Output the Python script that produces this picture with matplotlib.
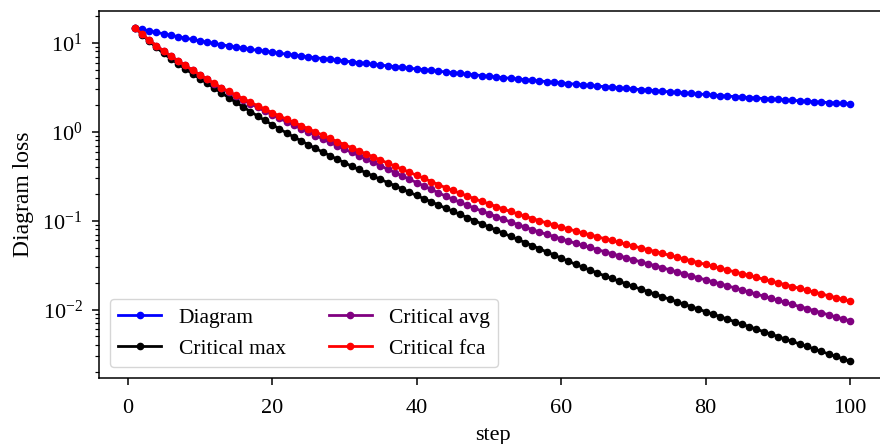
import numpy as np
import matplotlib
matplotlib.use("Agg")
import matplotlib.pyplot as plt

# loss per step, stored as log10(loss)
steps = list(range(1, 101))

diagram_log10 = [
    1.170, 1.152, 1.135, 1.118, 1.101, 1.085, 1.069, 1.053, 1.038, 1.022,
    1.007, 0.993, 0.979, 0.965, 0.952, 0.940, 0.927, 0.916, 0.905, 0.894,
    0.883, 0.873, 0.862, 0.852, 0.842, 0.832, 0.823, 0.813, 0.804, 0.795,
    0.786, 0.777, 0.768, 0.759, 0.750, 0.741, 0.732, 0.724, 0.715, 0.706,
    0.698, 0.689, 0.681, 0.673, 0.665, 0.656, 0.648, 0.640, 0.632, 0.624,
    0.616, 0.608, 0.601, 0.593, 0.586, 0.578, 0.571, 0.564, 0.556, 0.549,
    0.542, 0.535, 0.528, 0.521, 0.514, 0.507, 0.501, 0.494, 0.487, 0.481,
    0.474, 0.468, 0.461, 0.455, 0.449, 0.443, 0.437, 0.431, 0.425, 0.419,
    0.413, 0.407, 0.401, 0.396, 0.390, 0.385, 0.379, 0.374, 0.368, 0.363,
    0.358, 0.353, 0.348, 0.343, 0.338, 0.333, 0.328, 0.323, 0.318, 0.313,
]

crit_max_log10 = [
    1.170, 1.092, 1.018, 0.948, 0.880, 0.820, 0.762, 0.706, 0.651, 0.597,
    0.545, 0.491, 0.437, 0.384, 0.331, 0.279, 0.227, 0.177, 0.128, 0.080,
    0.033, -0.013, -0.058, -0.102, -0.145, -0.187, -0.228, -0.268, -0.308, -0.347,
    -0.386, -0.424, -0.461, -0.498, -0.535, -0.571, -0.607, -0.643, -0.680, -0.716,
    -0.752, -0.787, -0.823, -0.858, -0.893, -0.929, -0.964, -0.999, -1.034, -1.069,
    -1.105, -1.140, -1.175, -1.210, -1.245, -1.280, -1.315, -1.350, -1.385, -1.420,
    -1.455, -1.490, -1.523, -1.555, -1.587, -1.618, -1.649, -1.679, -1.709, -1.739,
    -1.768, -1.797, -1.825, -1.854, -1.882, -1.910, -1.938, -1.966, -1.994, -2.022,
    -2.050, -2.078, -2.106, -2.134, -2.162, -2.190, -2.218, -2.246, -2.274, -2.302,
    -2.330, -2.357, -2.385, -2.413, -2.441, -2.469, -2.497, -2.525, -2.553, -2.580,
]

crit_avg_log10 = [
    1.170, 1.098, 1.030, 0.967, 0.907, 0.851, 0.797, 0.745, 0.692, 0.640,
    0.589, 0.538, 0.488, 0.444, 0.401, 0.358, 0.316, 0.274, 0.233, 0.192,
    0.151, 0.113, 0.074, 0.035, -0.003, -0.042, -0.080, -0.119, -0.157, -0.195,
    -0.231, -0.268, -0.306, -0.345, -0.382, -0.420, -0.458, -0.496, -0.533, -0.572,
    -0.609, -0.647, -0.685, -0.723, -0.758, -0.792, -0.826, -0.858, -0.890, -0.921,
    -0.953, -0.983, -1.014, -1.043, -1.072, -1.100, -1.127, -1.153, -1.178, -1.203,
    -1.229, -1.253, -1.277, -1.300, -1.324, -1.347, -1.370, -1.393, -1.416, -1.438,
    -1.461, -1.484, -1.505, -1.528, -1.551, -1.574, -1.596, -1.619, -1.642, -1.664,
    -1.686, -1.709, -1.731, -1.754, -1.778, -1.800, -1.824, -1.847, -1.871, -1.894,
    -1.917, -1.941, -1.964, -1.987, -2.011, -2.033, -2.057, -2.081, -2.103, -2.127,
]

crit_fca_log10 = [
    1.170, 1.098, 1.030, 0.967, 0.907, 0.851, 0.797, 0.745, 0.693, 0.642,
    0.592, 0.543, 0.495, 0.453, 0.412, 0.372, 0.332, 0.293, 0.254, 0.216,
    0.178, 0.142, 0.106, 0.070, 0.034, -0.002, -0.038, -0.074, -0.110, -0.145,
    -0.179, -0.214, -0.248, -0.283, -0.317, -0.352, -0.386, -0.421, -0.455, -0.490,
    -0.524, -0.559, -0.593, -0.628, -0.660, -0.692, -0.723, -0.753, -0.782, -0.811,
    -0.840, -0.868, -0.896, -0.923, -0.949, -0.975, -1.000, -1.024, -1.047, -1.070,
    -1.093, -1.115, -1.137, -1.158, -1.180, -1.201, -1.222, -1.243, -1.264, -1.284,
    -1.305, -1.326, -1.346, -1.367, -1.388, -1.409, -1.429, -1.450, -1.471, -1.491,
    -1.512, -1.533, -1.553, -1.574, -1.595, -1.615, -1.636, -1.657, -1.678, -1.698,
    -1.719, -1.740, -1.760, -1.781, -1.802, -1.822, -1.843, -1.864, -1.884, -1.905,
]

series = [
    ("Diagram", diagram_log10, "blue"),
    ("Critical max", crit_max_log10, "black"),
    ("Critical avg", crit_avg_log10, "purple"),
    ("Critical fca", crit_fca_log10, "red"),
]

plt.rcParams.update({
    "font.family": ["Liberation Serif", "DejaVu Serif"],
    "mathtext.fontset": "stix",
    "font.size": 16,
    "legend.fontsize": 15.5,
    "axes.linewidth": 1.1,
    "xtick.major.size": 4.8,
    "xtick.major.width": 1.1,
    "xtick.major.pad": 10,
    "ytick.major.size": 4.8,
    "ytick.major.width": 1.1,
    "ytick.major.pad": 7,
    "ytick.minor.size": 2.8,
    "ytick.minor.width": 0.85,
    "lines.linewidth": 2.0,
})

fig = plt.figure(figsize=(8.8, 4.44), dpi=100)
ax = fig.add_axes([99 / 880, 66 / 444, 787 / 880, 367 / 444])

for name, vals, color in series:
    ax.plot(steps, 10 ** np.array(vals), marker=".", markersize=9,
            color=color, label=name)

ax.set_yscale("log")
ax.set_xlabel("step", labelpad=6)
ax.set_ylabel("Diagram loss", fontsize=17, labelpad=6)
ax.legend(loc="lower left", ncol=2)

fig.savefig("out.png", dpi=100)
